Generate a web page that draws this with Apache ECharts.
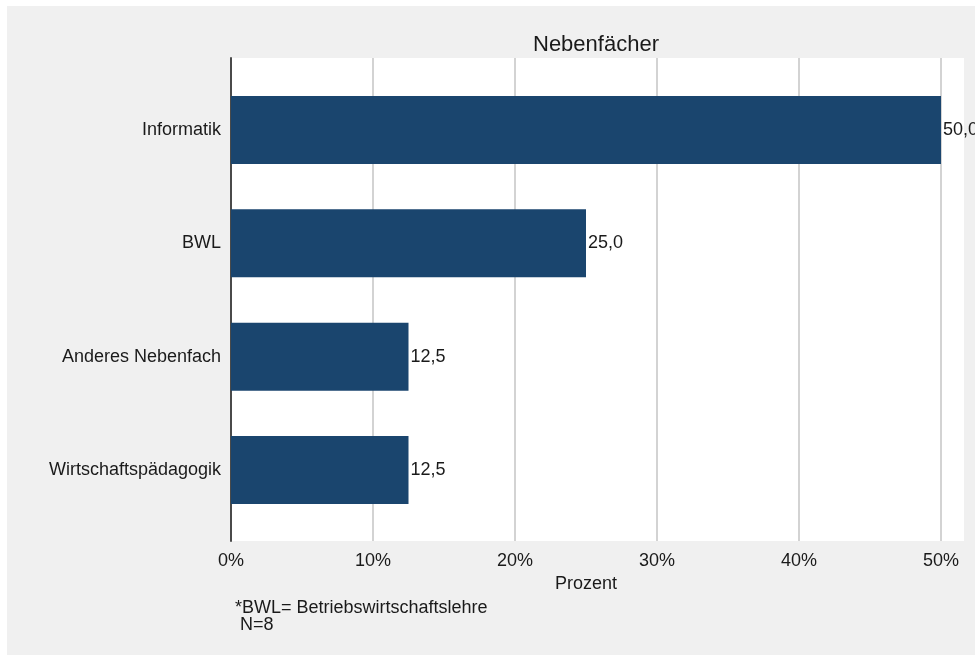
<!DOCTYPE html>
<html>
<head>
<meta charset="utf-8">
<script src="https://cdn.jsdelivr.net/npm/echarts@6/dist/echarts.min.js"></script>
<style>
html,body{margin:0;padding:0;background:#ffffff;}
#wrap{position:relative;width:975px;height:655px;background:#ffffff;}
#bg{position:absolute;left:7px;top:6px;right:0;bottom:0;background:#f0f0f0;}
#chart{position:absolute;left:0;top:0;width:975px;height:655px;}
</style>
</head>
<body>
<div id="wrap"><div id="bg"></div><div id="chart"></div></div>
<script>
const categories = ['Informatik', 'BWL', 'Anderes Nebenfach', 'Wirtschaftspädagogik'];
const values = [50.0, 25.0, 12.5, 12.5];
const xTicks = { min: 0, max: 50, interval: 10 };
const titleText = 'Nebenfächer';
const axisName = 'Prozent';
const footnote = '*BWL= Betriebswirtschaftslehre\n N=8';

const FONT = 'Liberation Sans, Arial, sans-serif';
const chart = echarts.init(document.getElementById('chart'), null, { renderer: 'canvas' });

chart.setOption({
  backgroundColor: 'transparent',
  animation: false,
  title: [
    { text: titleText, left: 533, top: 34, padding: 0,
      textStyle: { fontFamily: FONT, fontSize: 22, fontWeight: 'normal', color: '#1a1a1a' } },
    { text: footnote, left: 235, top: 600, padding: 0,
      textStyle: { fontFamily: FONT, fontSize: 18, fontWeight: 'normal', color: '#1a1a1a', lineHeight: 17 } }
  ],
  grid: [
    { left: 231, right: 11, top: 58, bottom: 114, show: true, backgroundColor: '#ffffff', borderWidth: 0 },
    { left: 231, right: 34, top: 58, bottom: 114 },
    { left: 231, right: 34, top: 73.3, bottom: 128.3 }
  ],
  xAxis: [
    { gridIndex: 0, type: 'value', min: 0, max: 1, show: false },
    { gridIndex: 1, type: 'value', min: xTicks.min, max: xTicks.max, interval: xTicks.interval,
      name: axisName, nameLocation: 'middle', nameGap: 23,
      nameTextStyle: { fontFamily: FONT, fontSize: 18, color: '#1a1a1a' },
      axisLine: { show: false }, axisTick: { show: false },
      axisLabel: { margin: 11, fontFamily: FONT, fontSize: 18, color: '#1a1a1a', formatter: '{value}%' },
      splitLine: { show: true, lineStyle: { color: '#c4c4c4', width: 1.5 } } },
    { gridIndex: 2, type: 'value', min: xTicks.min, max: xTicks.max, show: false }
  ],
  yAxis: [
    { gridIndex: 0, type: 'value', show: false },
    { gridIndex: 1, type: 'value', min: 0, max: 1,
      axisLine: { show: true, onZero: false, lineStyle: { color: '#4a4a4a', width: 2 } },
      axisTick: { show: false }, axisLabel: { show: false }, splitLine: { show: false } },
    { gridIndex: 2, type: 'category', data: categories, inverse: true,
      axisLine: { show: false }, axisTick: { show: false },
      axisLabel: { margin: 10, fontFamily: FONT, fontSize: 18, color: '#1a1a1a' } }
  ],
  series: [{
    type: 'bar',
    xAxisIndex: 2, yAxisIndex: 2,
    data: values,
    barWidth: 68,
    itemStyle: { color: '#1a456e' },
    label: {
      show: true, position: 'right', distance: 2,
      fontFamily: FONT, fontSize: 18, color: '#1a1a1a',
      formatter: p => p.value.toFixed(1).replace('.', ',')
    }
  }]
});
</script>
</body>
</html>
